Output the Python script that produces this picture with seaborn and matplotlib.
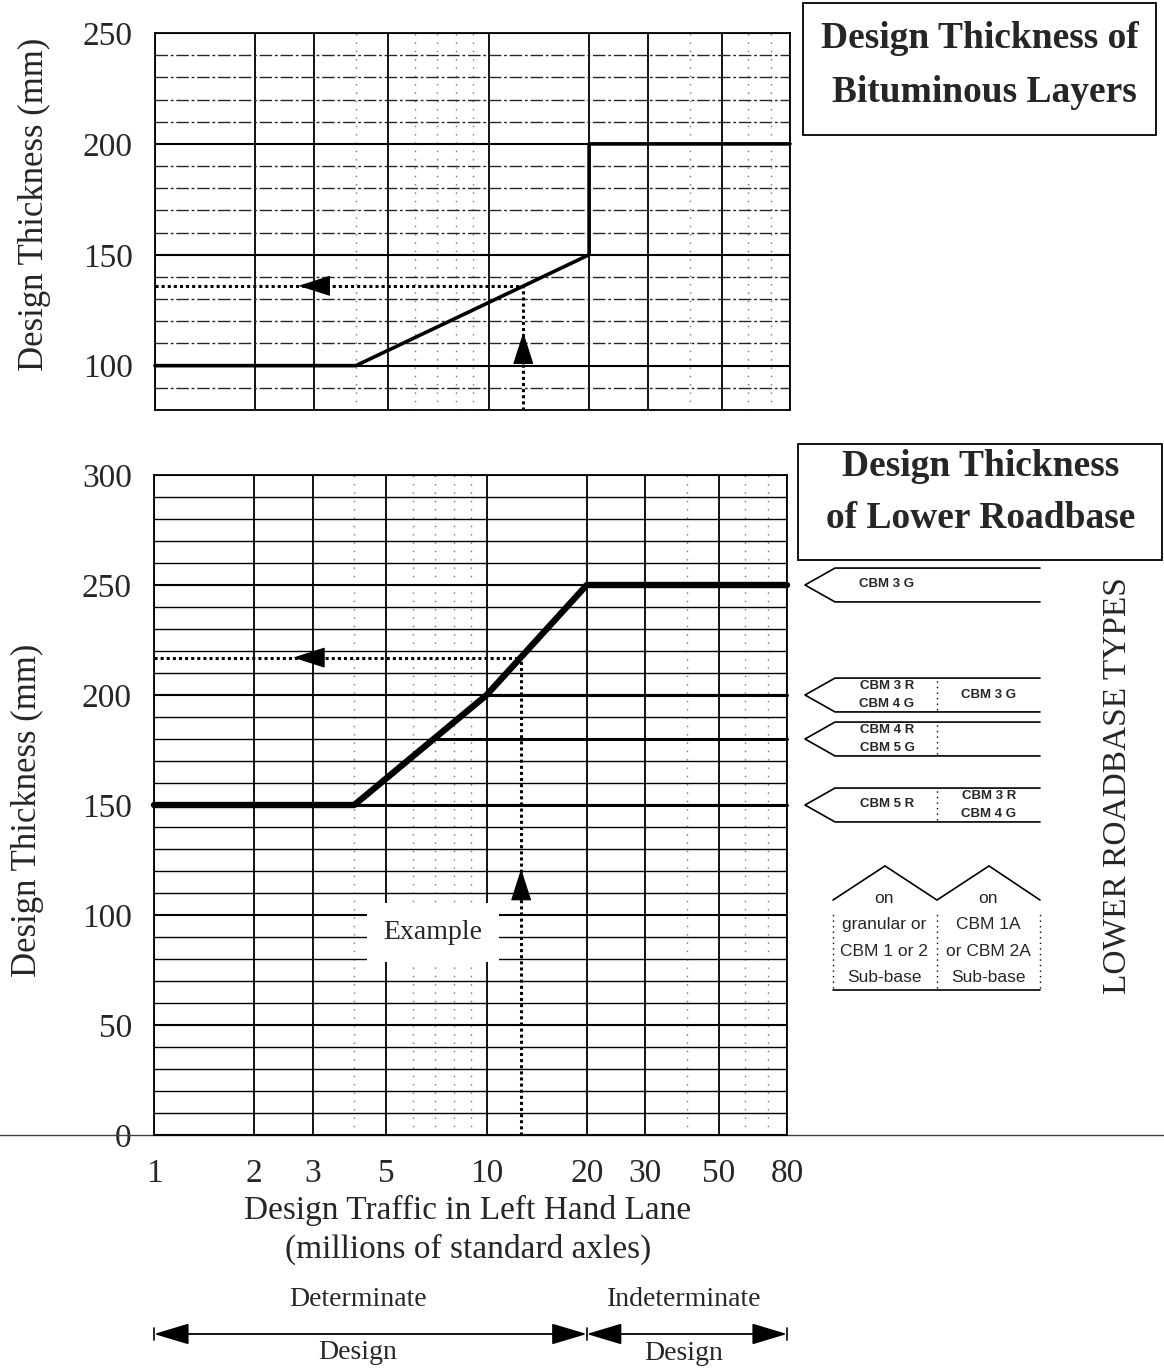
import numpy as np
import pandas as pd
import matplotlib
matplotlib.use("Agg")
import matplotlib.pyplot as plt
import seaborn as sns
from matplotlib.ticker import FixedLocator, FixedFormatter, NullFormatter
from matplotlib.patches import Rectangle
from matplotlib.transforms import blended_transform_factory

# ---------------- data ----------------
traffic_ticks = [1, 2, 3, 5, 10, 20, 30, 50, 80]
traffic_tick_labels = ["1", "2", "3", "5", "10", "20", "30", "50", "80"]
traffic_minor = [4, 6, 7, 8, 9, 40, 60, 70]

bit_traffic = [1, 4, 20, 20, 80]
bit_thickness = [100, 100, 150, 200, 200]

rb_traffic = [1, 4, 10, 20, 80]
rb_thickness = [150, 150, 200, 250, 250]

type_levels = [200, 180, 150]
type_start = [10, 6.9, 4]
type_end = [80, 80, 80]

example_traffic = 12.7
example_bit = 136
example_rb = 217

bit_yticks = [100, 150, 200, 250]
rb_yticks = [0, 50, 100, 150, 200, 250, 300]

legend_levels = [250, 200, 180, 150]
legend_left = [["CBM 3 G"], ["CBM 3 R", "CBM 4 G"], ["CBM 4 R", "CBM 5 G"], ["CBM 5 R"]]
legend_right = [[], ["CBM 3 G"], [], ["CBM 3 R", "CBM 4 G"]]
subbase_left = ["on", "granular or", "CBM 1 or 2", "Sub-base"]
subbase_right = ["on", "CBM 1A", "or CBM 2A", "Sub-base"]

# ---------------- style ----------------
sns.set_theme(style="white")
plt.rcParams["font.family"] = ["Liberation Serif", "DejaVu Serif"]
plt.rcParams["axes.edgecolor"] = "black"

W, H = 1164, 1368
fig = plt.figure(figsize=(W / 100, H / 100), dpi=100)
fig.patch.set_facecolor("white")

ax1 = fig.add_axes([155 / W, 1 - 410 / H, 635 / W, 377 / H])
ax2 = fig.add_axes([154 / W, 1 - 1135 / H, 633 / W, 660 / H])


def style_axes(ax, ylim, yticks, top_panel):
    ax.set_xscale("log")
    ax.set_xlim(1, 80)
    ax.set_ylim(*ylim)
    ax.xaxis.set_major_locator(FixedLocator(traffic_ticks))
    ax.xaxis.set_major_formatter(FixedFormatter(traffic_tick_labels))
    ax.xaxis.set_minor_locator(FixedLocator(traffic_minor))
    ax.xaxis.set_minor_formatter(NullFormatter())
    ax.yaxis.set_major_locator(FixedLocator(yticks))
    ax.yaxis.set_minor_locator(FixedLocator(list(range(int(ylim[0]), int(ylim[1]) + 1, 10))))
    ax.set_axisbelow(True)
    ax.grid(True, which="major", axis="x", color="black", lw=1.3)
    ax.grid(True, which="minor", axis="x", color="0.45", lw=1.0, ls=(0, (1, 5)))
    if top_panel:
        ax.grid(True, which="minor", axis="y", color="0.15", lw=1.0, ls=(0, (9, 2, 2, 2)))
    else:
        ax.grid(True, which="minor", axis="y", color="black", lw=1.0)
    ax.grid(True, which="major", axis="y", color="black", lw=1.5)
    for s in ax.spines.values():
        s.set_color("black")
        s.set_linewidth(1.3)
    ax.tick_params(axis="y", which="both", direction="out", length=6, width=1.0,
                   color="black", pad=10, labelsize=24)
    ax.tick_params(axis="x", which="minor", length=0)
    ax.set_xlabel("")
    ax.set_ylabel("")


style_axes(ax1, (80, 250), bit_yticks, True)
style_axes(ax2, (0, 300), rb_yticks, False)
ax1.tick_params(axis="x", which="major", length=0, labelbottom=False)
ax2.tick_params(axis="x", which="major", direction="out", length=9, width=1.3,
                color="black", pad=8, labelsize=24)

# ---------------- curves ----------------
df_bit = pd.DataFrame({"traffic": bit_traffic, "thickness": bit_thickness})
df_rb = pd.DataFrame({"traffic": rb_traffic, "thickness": rb_thickness})
sns.lineplot(data=df_bit, x="traffic", y="thickness", sort=False, estimator=None,
             color="black", lw=2.6, ax=ax1, clip_on=False)
sns.lineplot(data=df_rb, x="traffic", y="thickness", sort=False, estimator=None,
             color="black", lw=4.6, ax=ax2, clip_on=False, zorder=5)
for lvl, s, e in zip(type_levels, type_start, type_end):
    ax2.plot([s, e], [lvl, lvl], color="black", lw=2.2, clip_on=False, zorder=4)
ax1.set_xlabel("")
ax2.set_xlabel("")

# ---------------- example construction ----------------
dot = (0, (1, 1))
ax1.plot([example_traffic, example_traffic], [80, example_bit], color="black", lw=2.2, ls=dot)
ax1.plot([1, example_traffic], [example_bit, example_bit], color="black", lw=2.2, ls=dot)
ax2.plot([example_traffic, example_traffic], [0, example_rb], color="black", lw=2.2, ls=dot)
ax2.plot([1, example_traffic], [example_rb, example_rb], color="black", lw=2.2, ls=dot)

head = dict(arrowstyle="-|>,head_length=1.0,head_width=0.32", color="black",
            lw=0.8, mutation_scale=21, shrinkA=0, shrinkB=0)
ax1.annotate("", xy=(2.69, example_bit), xytext=(3.3, example_bit), arrowprops=head)
ax1.annotate("", xy=(example_traffic, 115), xytext=(example_traffic, 102), arrowprops=head)
ax2.annotate("", xy=(2.62, example_rb), xytext=(3.25, example_rb), arrowprops=head)
ax2.annotate("", xy=(example_traffic, 121), xytext=(example_traffic, 106.5), arrowprops=head)

ax2.text(6.9, 92, "Example", ha="center", va="center", fontsize=20, zorder=6,
         bbox=dict(boxstyle="square,pad=0.6", fc="white", ec="none"))

# ---------------- axis labels ----------------
ax1.set_ylabel("Design Thickness (mm)", fontsize=25)
ax1.yaxis.set_label_coords(-0.164, 0.545)
ax2.set_ylabel("Design Thickness (mm)", fontsize=25)
ax2.yaxis.set_label_coords(-0.174, 0.492)
ax2.set_xlabel("Design Traffic in Left Hand Lane\n(millions of standard axles)",
               fontsize=24, linespacing=1.3)
ax2.xaxis.set_label_coords(0.496, -0.091)

# figure-wide baseline (scan edge)
ax2.plot([-0.25, 1.6], [0, 0], transform=ax2.transAxes, color="0.25", lw=1.0, clip_on=False)

# ---------------- design regime arrows ----------------
bt = blended_transform_factory(ax2.transData, ax2.transAxes)
dbl = dict(arrowstyle="<|-|>,head_length=1.0,head_width=0.3", color="black", lw=1.3,
           mutation_scale=22, shrinkA=0, shrinkB=0)
ax2.annotate("", xy=(1, -0.3015), xytext=(20, -0.3015), xycoords=bt, textcoords=bt,
             arrowprops=dbl, annotation_clip=False)
ax2.annotate("", xy=(20, -0.3015), xytext=(80, -0.3015), xycoords=bt, textcoords=bt,
             arrowprops=dbl, annotation_clip=False)
for xv in [1, 20, 80]:
    ax2.plot([xv, xv], [-0.292, -0.311], transform=bt, color="black", lw=1.2, clip_on=False)
ax2.text(4.1, -0.25, "Determinate", transform=bt, ha="center", va="center", fontsize=20)
ax2.text(4.1, -0.329, "Design", transform=bt, ha="center", va="center", fontsize=20)
ax2.text(39.2, -0.25, "Indeterminate", transform=bt, ha="center", va="center", fontsize=20)
ax2.text(39.2, -0.331, "Design", transform=bt, ha="center", va="center", fontsize=20)

# ---------------- title boxes ----------------
fig.add_artist(Rectangle((803 / W, 1 - 135 / H), 353 / W, 132 / H, transform=fig.transFigure,
                         fill=False, ec="black", lw=1.3))
fig.text(980 / W, 1 - 38 / H, "Design Thickness of", ha="center", va="center",
         fontsize=27, fontweight="bold")
fig.text(984 / W, 1 - 92 / H, "Bituminous Layers", ha="center", va="center",
         fontsize=27, fontweight="bold")
fig.add_artist(Rectangle((798 / W, 1 - 560 / H), 364 / W, 116 / H, transform=fig.transFigure,
                         fill=False, ec="black", lw=1.3))
fig.text(981 / W, 1 - 467 / H, "Design Thickness", ha="center", va="center",
         fontsize=27, fontweight="bold")
fig.text(981 / W, 1 - 519 / H, "of Lower Roadbase", ha="center", va="center",
         fontsize=27, fontweight="bold")

# ---------------- roadbase type legend ----------------
ax3 = fig.add_axes([790 / W, 1 - 1135 / H, 374 / W, 660 / H])
ax3.set_xlim(0, 374)
ax3.set_ylim(0, 300)
ax3.axis("off")
hh = 7.7
small = dict(fontsize=9.5, fontweight="bold", family="Liberation Sans", ha="center", va="center")
for lvl, lt, rt in zip(legend_levels, legend_left, legend_right):
    ax3.plot([250, 45, 15, 45, 250], [lvl + hh, lvl + hh, lvl, lvl - hh, lvl - hh],
             color="black", lw=1.2)
    if len(lt) == 1:
        ax3.text(97, lvl + 0.5, lt[0], **small)
    else:
        ax3.text(97, lvl + 4.2, lt[0], **small)
        ax3.text(97, lvl - 4.2, lt[1], **small)
    if lvl != 250:
        ax3.plot([147, 147], [lvl - hh + 1, lvl + hh - 1], color="black", lw=1.0, ls=(0, (1, 3)))
    if len(rt) == 1:
        ax3.text(199, lvl, rt[0], **small)
    elif len(rt) == 2:
        ax3.text(199, lvl + 4.2, rt[0], **small)
        ax3.text(199, lvl - 4.2, rt[1], **small)

ax3.plot([43, 95, 147, 199, 250], [106.8, 122.3, 106.8, 122.3, 106.8], color="black", lw=1.2)
ax3.plot([43, 250], [66, 66], color="black", lw=1.2)
for xv in [43, 147, 250]:
    ax3.plot([xv, xv], [67, 102], color="black", lw=1.0, ls=(0, (1, 3)))
sub = dict(fontsize=12.5, family="Liberation Sans", ha="center", va="center")
for i, (a, b) in enumerate(zip(subbase_left, subbase_right)):
    yv = [107.7, 95.5, 83.6, 71.8][i]
    ax3.text(94, yv, a, **sub)
    ax3.text(198, yv, b, **sub)
ax3.text(327, 159, "LOWER ROADBASE TYPES", rotation=90, ha="center", va="center", fontsize=24)

fig.savefig("out.png", dpi=100, facecolor="white")
